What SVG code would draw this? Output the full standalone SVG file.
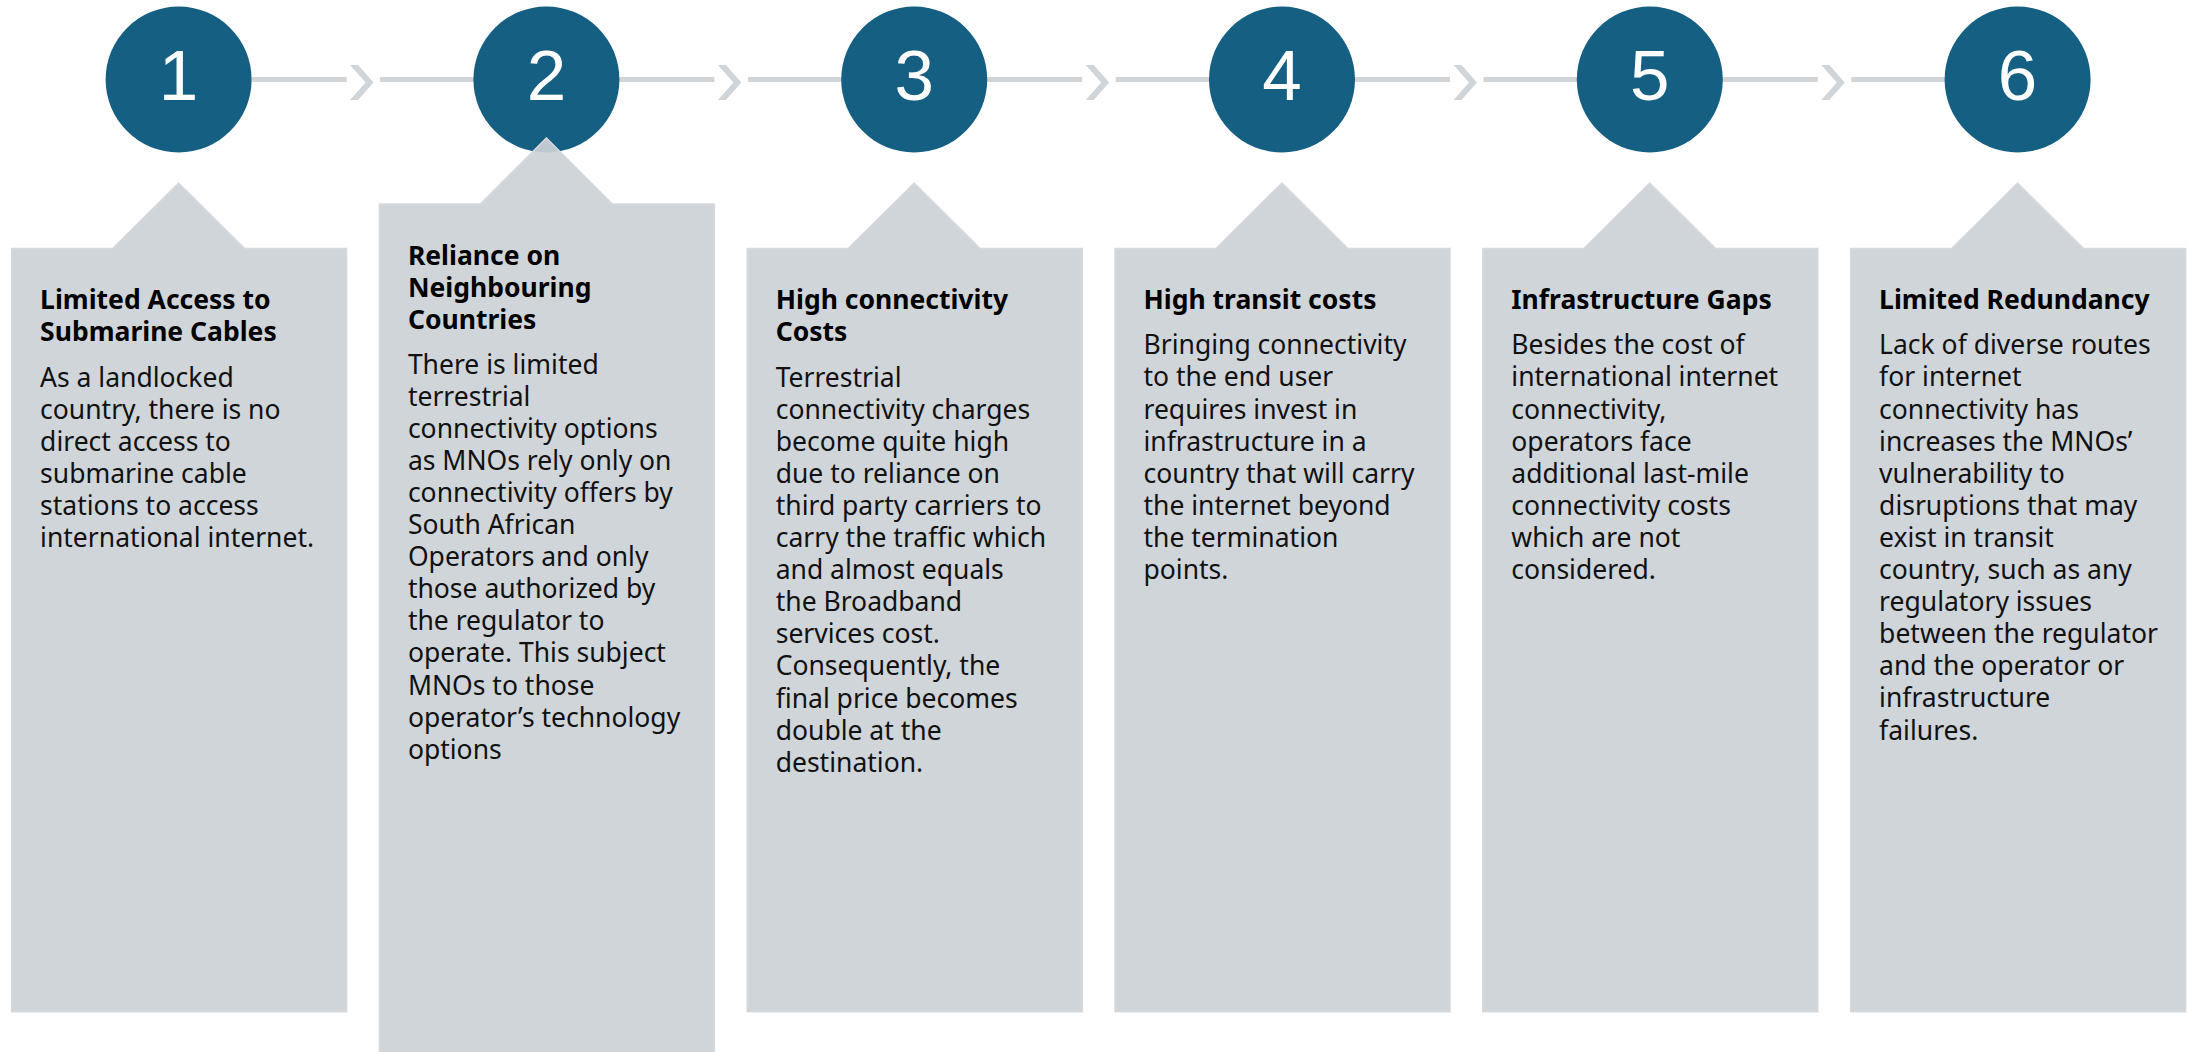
<svg xmlns="http://www.w3.org/2000/svg" width="2188" height="1052" viewBox="0 0 2188 1052">
  <defs>
    <style>
      .link { stroke: #D0D5DA; stroke-width: 5; fill: none; }
      .chev { fill: #D0D5DA; }
      .badge { fill: #156082; }
      .num { font-family: "Liberation Sans", Arial, sans-serif; font-size: 71px; fill: #FFFFFF; text-anchor: middle; }
      .card { fill: #CCD1D7; fill-opacity: 0.92; stroke: #D6DADF; stroke-width: 1.5; }
      .ttl { font-family: "Noto Sans", "Liberation Sans", sans-serif; font-size: 26.5px; font-weight: 700; fill: #000000; }
      .txt { font-family: "Noto Sans", "Liberation Sans", sans-serif; font-size: 26.5px; fill: #111111; }
    </style>
  </defs>
  <rect width="2188" height="1052" fill="#FFFFFF"/>

  <!-- connectors between the numbered badges -->
  <g id="connectors">
    <line class="link" x1="252" y1="79.5" x2="346.6" y2="79.5"/>
    <polygon class="chev" points="350.1,65 358.1,65 373.6,82.5 358.1,100 350.1,100 365.6,82.5"/>
    <line class="link" x1="380.1" y1="79.5" x2="546.4" y2="79.5"/>

    <line class="link" x1="546.4" y1="79.5" x2="714.4" y2="79.5"/>
    <polygon class="chev" points="717.9,65 725.9,65 741.4,82.5 725.9,100 717.9,100 733.4,82.5"/>
    <line class="link" x1="747.9" y1="79.5" x2="914.2" y2="79.5"/>

    <line class="link" x1="914.2" y1="79.5" x2="1082.2" y2="79.5"/>
    <polygon class="chev" points="1085.7,65 1093.7,65 1109.2,82.5 1093.7,100 1085.7,100 1101.2,82.5"/>
    <line class="link" x1="1115.7" y1="79.5" x2="1282" y2="79.5"/>

    <line class="link" x1="1282" y1="79.5" x2="1450" y2="79.5"/>
    <polygon class="chev" points="1453.5,65 1461.5,65 1477,82.5 1461.5,100 1453.5,100 1469,82.5"/>
    <line class="link" x1="1483.5" y1="79.5" x2="1649.8" y2="79.5"/>

    <line class="link" x1="1649.8" y1="79.5" x2="1817.8" y2="79.5"/>
    <polygon class="chev" points="1821.3,65 1829.3,65 1844.8,82.5 1829.3,100 1821.3,100 1836.8,82.5"/>
    <line class="link" x1="1851.3" y1="79.5" x2="2017.6" y2="79.5"/>
  </g>

  <!-- numbered badges -->
  <g id="badge-1"><circle class="badge" cx="178.6" cy="79.5" r="73"/><text class="num" x="178.6" y="100">1</text></g>
  <g id="badge-2"><circle class="badge" cx="546.4" cy="79.5" r="73"/><text class="num" x="546.4" y="100">2</text></g>
  <g id="badge-3"><circle class="badge" cx="914.2" cy="79.5" r="73"/><text class="num" x="914.2" y="100">3</text></g>
  <g id="badge-4"><circle class="badge" cx="1282" cy="79.5" r="73"/><text class="num" x="1282" y="100">4</text></g>
  <g id="badge-5"><circle class="badge" cx="1649.8" cy="79.5" r="73"/><text class="num" x="1649.8" y="100">5</text></g>
  <g id="badge-6"><circle class="badge" cx="2017.6" cy="79.5" r="73"/><text class="num" x="2017.6" y="100">6</text></g>

  <!-- callout cards -->
  <g id="card-1">
    <path class="card" d="M11.6,248.5 H112.6 L178.6,183 L244.6,248.5 H346.6 V1011.7 H11.6 Z"/>
    <text class="ttl" x="40.1" y="309.3">Limited Access to</text>
    <text class="ttl" x="40.1" y="341.3">Submarine Cables</text>
    <text class="txt" x="40.1">
      <tspan x="40.1" y="386.5">As a landlocked</tspan>
      <tspan x="40.1" y="418.6">country, there is no</tspan>
      <tspan x="40.1" y="450.7">direct access to</tspan>
      <tspan x="40.1" y="482.8">submarine cable</tspan>
      <tspan x="40.1" y="514.9">stations to access</tspan>
      <tspan x="40.1" y="547">international internet.</tspan>
    </text>
  </g>

  <g id="card-2">
    <path class="card" d="M379.4,204 H480.4 L546.4,138 L612.4,204 H714.4 V1053 H379.4 Z"/>
    <text class="ttl" x="407.9" y="264.8">Reliance on</text>
    <text class="ttl" x="407.9" y="296.8">Neighbouring</text>
    <text class="ttl" x="407.9" y="328.8">Countries</text>
    <text class="txt" x="407.9">
      <tspan x="407.9" y="373.5">There is limited</tspan>
      <tspan x="407.9" y="405.6">terrestrial</tspan>
      <tspan x="407.9" y="437.7">connectivity options</tspan>
      <tspan x="407.9" y="469.8">as MNOs rely only on</tspan>
      <tspan x="407.9" y="501.9">connectivity offers by</tspan>
      <tspan x="407.9" y="534">South African</tspan>
      <tspan x="407.9" y="566.1">Operators and only</tspan>
      <tspan x="407.9" y="598.2">those authorized by</tspan>
      <tspan x="407.9" y="630.3">the regulator to</tspan>
      <tspan x="407.9" y="662.4">operate. This subject</tspan>
      <tspan x="407.9" y="694.5">MNOs to those</tspan>
      <tspan x="407.9" y="726.6">operator’s technology</tspan>
      <tspan x="407.9" y="758.7">options</tspan>
    </text>
  </g>

  <g id="card-3">
    <path class="card" d="M747.2,248.5 H848.2 L914.2,183 L980.2,248.5 H1082.2 V1011.7 H747.2 Z"/>
    <text class="ttl" x="775.7" y="309.3">High connectivity</text>
    <text class="ttl" x="775.7" y="341.3">Costs</text>
    <text class="txt" x="775.7">
      <tspan x="775.7" y="386.5">Terrestrial</tspan>
      <tspan x="775.7" y="418.6">connectivity charges</tspan>
      <tspan x="775.7" y="450.7">become quite high</tspan>
      <tspan x="775.7" y="482.8">due to reliance on</tspan>
      <tspan x="775.7" y="514.9">third party carriers to</tspan>
      <tspan x="775.7" y="547">carry the traffic which</tspan>
      <tspan x="775.7" y="579.1">and almost equals</tspan>
      <tspan x="775.7" y="611.2">the Broadband</tspan>
      <tspan x="775.7" y="643.3">services cost.</tspan>
      <tspan x="775.7" y="675.4">Consequently, the</tspan>
      <tspan x="775.7" y="707.5">final price becomes</tspan>
      <tspan x="775.7" y="739.6">double at the</tspan>
      <tspan x="775.7" y="771.7">destination.</tspan>
    </text>
  </g>

  <g id="card-4">
    <path class="card" d="M1115,248.5 H1216 L1282,183 L1348,248.5 H1450 V1011.7 H1115 Z"/>
    <text class="ttl" x="1143.5" y="309.3">High transit costs</text>
    <text class="txt" x="1143.5">
      <tspan x="1143.5" y="354.3">Bringing connectivity</tspan>
      <tspan x="1143.5" y="386.4">to the end user</tspan>
      <tspan x="1143.5" y="418.5">requires invest in</tspan>
      <tspan x="1143.5" y="450.6">infrastructure in a</tspan>
      <tspan x="1143.5" y="482.7">country that will carry</tspan>
      <tspan x="1143.5" y="514.8">the internet beyond</tspan>
      <tspan x="1143.5" y="546.9">the termination</tspan>
      <tspan x="1143.5" y="579">points.</tspan>
    </text>
  </g>

  <g id="card-5">
    <path class="card" d="M1482.8,248.5 H1583.8 L1649.8,183 L1715.8,248.5 H1817.8 V1011.7 H1482.8 Z"/>
    <text class="ttl" x="1511.3" y="309.3">Infrastructure Gaps</text>
    <text class="txt" x="1511.3">
      <tspan x="1511.3" y="354.3">Besides the cost of</tspan>
      <tspan x="1511.3" y="386.4">international internet</tspan>
      <tspan x="1511.3" y="418.5">connectivity,</tspan>
      <tspan x="1511.3" y="450.6">operators face</tspan>
      <tspan x="1511.3" y="482.7">additional last-mile</tspan>
      <tspan x="1511.3" y="514.8">connectivity costs</tspan>
      <tspan x="1511.3" y="546.9">which are not</tspan>
      <tspan x="1511.3" y="579">considered.</tspan>
    </text>
  </g>

  <g id="card-6">
    <path class="card" d="M1850.6,248.5 H1951.6 L2017.6,183 L2083.6,248.5 H2185.6 V1011.7 H1850.6 Z"/>
    <text class="ttl" x="1879.1" y="309.3">Limited Redundancy</text>
    <text class="txt" x="1879.1">
      <tspan x="1879.1" y="354.3">Lack of diverse routes</tspan>
      <tspan x="1879.1" y="386.4">for internet</tspan>
      <tspan x="1879.1" y="418.5">connectivity has</tspan>
      <tspan x="1879.1" y="450.6">increases the MNOs’</tspan>
      <tspan x="1879.1" y="482.7">vulnerability to</tspan>
      <tspan x="1879.1" y="514.8">disruptions that may</tspan>
      <tspan x="1879.1" y="546.9">exist in transit</tspan>
      <tspan x="1879.1" y="579">country, such as any</tspan>
      <tspan x="1879.1" y="611.1">regulatory issues</tspan>
      <tspan x="1879.1" y="643.2">between the regulator</tspan>
      <tspan x="1879.1" y="675.3">and the operator or</tspan>
      <tspan x="1879.1" y="707.4">infrastructure</tspan>
      <tspan x="1879.1" y="739.5">failures.</tspan>
    </text>
  </g>
</svg>
